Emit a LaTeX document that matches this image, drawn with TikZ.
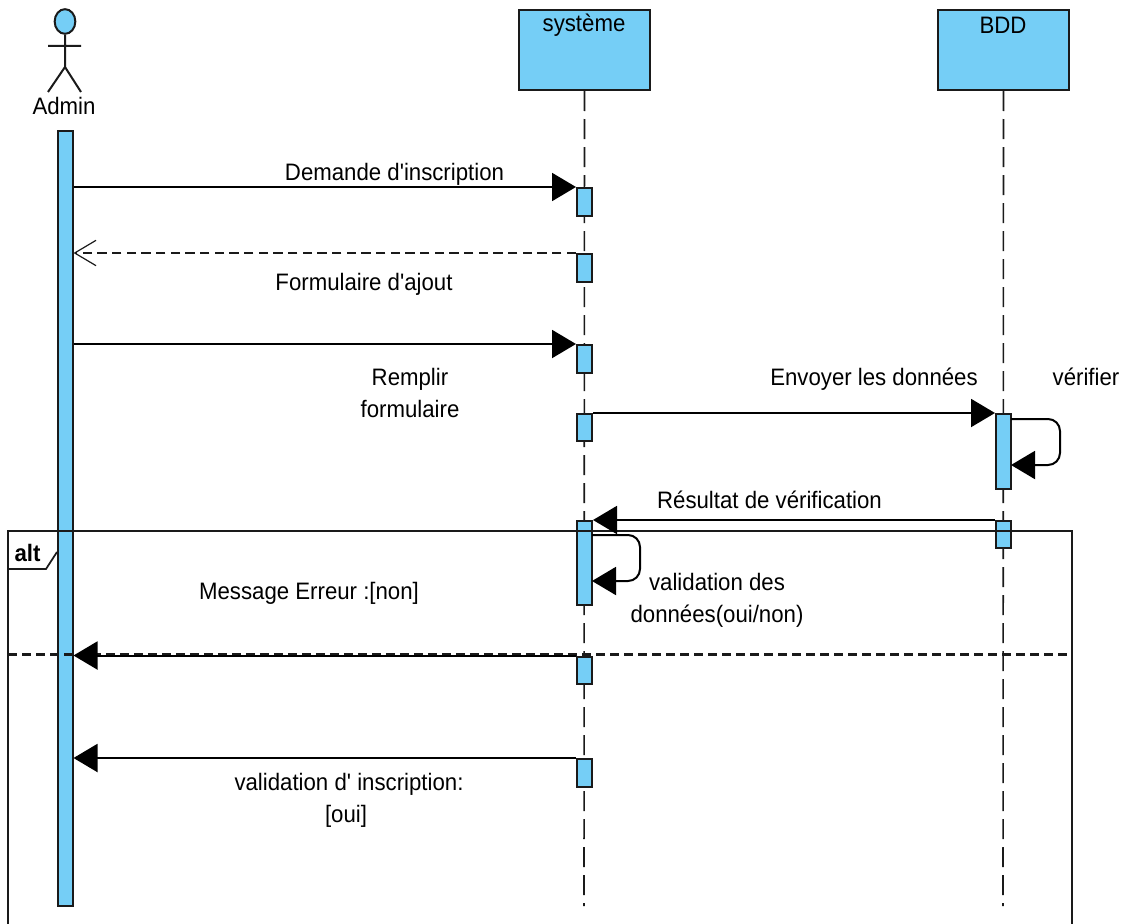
\documentclass[tikz,border=0pt]{standalone}
\usepackage{fontspec}
\setmainfont{Liberation Sans}[Ligatures=ResetAll]
\usetikzlibrary{arrows.meta,shapes.geometric}
\definecolor{bluefill}{HTML}{75CEF6}
\definecolor{inkline}{HTML}{1A1A1A}
\tikzset{
  x=0.75pt,y=-0.75pt,
  line/.style={draw=inkline,line width=1.5pt},
  headbox/.style={line,fill=bluefill,minimum width=98.25pt,minimum height=60pt,inner sep=0pt},
  actbox/.style={line,fill=bluefill,minimum width=11.25pt,inner sep=0pt,anchor=north},
  lifeline/.style={draw=inkline,line width=1.2pt,dash pattern=on 15pt off 6pt},
  solidmsg/.style={draw=black,line width=1.5pt,-{Triangle[length=18pt,width=21pt,fill=black]}},
  replymsg/.style={draw=inkline,line width=1.1pt,dash pattern=on 7pt off 4pt,-{Straight Barb[length=16pt,width=19pt,line width=.9pt]}},
  lbl/.style={inner sep=0pt,align=center,text=black,font=\fontsize{17}{22.9}\selectfont,xscale=.98,yscale=1.05,yshift=-1.5pt},
  frameline/.style={draw=inkline,line width=1.3pt},
  sepline/.style={draw=inkline,line width=1.7pt,dash pattern=on 7pt off 3.5pt},
}
\begin{document}
\begin{tikzpicture}
\useasboundingbox (0,0) rectangle (1131,924);
\fill[white] (0,0) rectangle (1131,924);
% lifelines
\node[headbox] (sys) at (584.5,50) {};
\node[headbox] (bdd) at (1003.5,50) {};
\coordinate (sysend) at (584,906);
\coordinate (bddend) at (1003,906);
\draw[lifeline] (sys.south) -- (sysend);
\draw[lifeline] (bdd.south) -- (bddend);
\node[lbl] (systxt) at (584,23) {système};
\node[lbl] (bddtxt) at (1003,23) {BDD};
% actor
\node[line,fill=bluefill,ellipse,inner sep=0pt,minimum width=15.5pt,minimum height=18.5pt] (head) at (65,21.5) {};
\coordinate (hip) at (65,67);
\draw[line] (head.south) -- (hip) (48,46) -- (81,46) (48,92) -- (hip) -- (81,92);
\node[lbl] (admintxt) at (64,104) {Admin};
% activations
\node[actbox,minimum height=581pt] (adm) at (65,130) {};
\node[actbox,minimum height=21pt] (s1) at (584.5,187) {};
\node[actbox,minimum height=21pt] (s2) at (584.5,253) {};
\node[actbox,minimum height=21pt] (s3) at (584.5,344) {};
\node[actbox,minimum height=20.5pt] (s4) at (584.5,413) {};
\node[actbox,minimum height=63pt] (s5) at (584.5,520) {};
\node[actbox,minimum height=20.5pt] (s6) at (584.5,655.5) {};
\node[actbox,minimum height=21pt] (s7) at (584.5,758) {};
\node[actbox,minimum height=56.5pt] (b1) at (1003.5,413) {};
\node[actbox,minimum height=20.5pt] (b2) at (1003.5,520) {};
% frame
\coordinate (fbl) at (8,924);
\coordinate (ftl) at (8,531);
\coordinate (ftr) at (1072,531);
\coordinate (fbr) at (1072,924);
\draw[frameline] (fbl) -- (ftl) -- (ftr) -- (fbr);
\draw[frameline] (8,569) -- (46,569) -- (57,552);
\node[lbl,font=\fontsize{17}{22.9}\selectfont\bfseries] (alttxt) at (27.5,551) {alt};
\coordinate (sepl) at (8,654.5);
\coordinate (sepr) at (1072,654.5);
\draw[sepline] (sepl) -- (sepr);
% messages
\draw[solidmsg] (adm.east |- s1.north) -- (s1.north west);
\draw[replymsg] (s2.north west) -- (adm.east |- s2.north);
\draw[solidmsg] (adm.east |- s3.north) -- (s3.north west);
\draw[solidmsg] (s4.north east) -- (b1.north west);
\draw[solidmsg] (b2.north west) -- (s5.north east);
\draw[solidmsg] (s6.north west) -- (adm.east |- s6.north);
\draw[solidmsg] (s7.north west) -- (adm.east |- s7.north);
% self messages
\draw[solidmsg,rounded corners=9pt] (1011,419) -- (1060,419) -- (1060,465) -- (1011,465);
\draw[solidmsg,rounded corners=9pt] (592,535) -- (640,535) -- (640,581) -- (592,581);
% labels
\node[lbl] (m1) at (394.5,172) {Demande d\textquotesingle inscription};
\node[lbl] (m2) at (364,282) {Formulaire d\textquotesingle ajout};
\node[lbl] (m3) at (410,391) {Remplir\\formulaire};
\node[lbl] (m4) at (874,377) {Envoyer les données};
\node[lbl] (m5) at (1086,375) {vérifier};
\node[lbl] (m6) at (769.5,498) {Résultat de vérification};
\node[lbl] (m7) at (717,598) {validation des\\données(oui/non)};
\node[lbl] (m8) at (309,591) {Message Erreur :[non]};
\node[lbl] (m9) at (349,798) {validation d\textquotesingle{} inscription:\\\hspace*{-4.5pt}[oui]};
\end{tikzpicture}
\end{document}
